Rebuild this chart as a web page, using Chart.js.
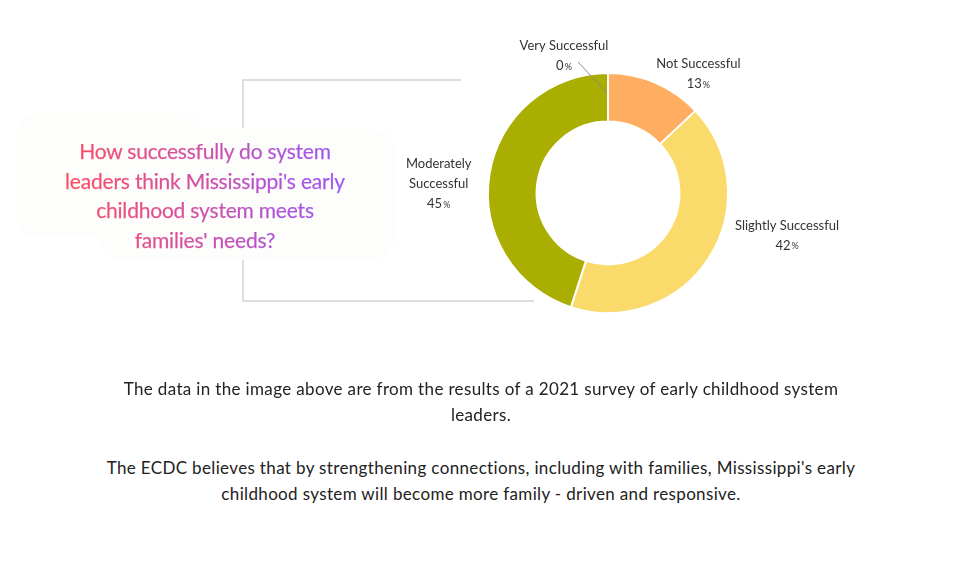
<!DOCTYPE html>
<html>
<head>
<meta charset="utf-8">
<script src="https://cdn.jsdelivr.net/npm/chart.js@4.4.1/dist/chart.umd.min.js"></script>
<style>
  html, body { margin: 0; padding: 0; background: #fff; }
  body { width: 962px; height: 568px; position: relative; overflow: hidden; font-family: Lato, sans-serif; }
  .line { position: absolute; background: #dedede; }
  .blob { position: absolute; background: #fdfdfb; border-radius: 26px; }
  #title {
    position: absolute; left: 30px; top: 136px; width: 350px;
    text-align: center; font-size: 21px; line-height: 29.5px; letter-spacing: -0.2px;
    -webkit-text-stroke: 0.25px transparent;
    background: linear-gradient(90deg, #ff4d60 10%, #d64f9e 45%, #b054d8 70%, #9b55f5 90%);
    -webkit-background-clip: text; background-clip: text; color: transparent;
  }
  #wrap { position: absolute; left: 308px; top: 0; width: 600px; height: 386px; }
  .note { position: absolute; left: 0; width: 962px; text-align: center; font-size: 17px; line-height: 26px; color: #222; letter-spacing: 0.35px; }
</style>
</head>
<body>
<div class="line" style="left:242px; top:79px; width:219px; height:2px;"></div>
<div class="line" style="left:242px; top:79px; width:2px; height:223px;"></div>
<div class="line" style="left:242px; top:300px; width:292px; height:2px;"></div>
<div class="blob" style="left:15px; top:112px; width:190px; height:126px;"></div>
<div class="blob" style="left:98px; top:128px; width:298px; height:132px;"></div>
<div id="title">How successfully do system<br>leaders think Mississippi's early<br>childhood system meets<br>families' needs?</div>
<div id="wrap"><canvas id="donut"></canvas></div>
<div class="note" style="top:376px;">The data in the image above are from the results of a 2021 survey of early childhood system<br>leaders.</div>
<div class="note" style="top:455px;">The ECDC believes that by strengthening connections, including with families, Mississippi's early<br>childhood system will become more family - driven and responsive.</div>
<script>
const categories = ['Very Successful', 'Not Successful', 'Slightly Successful', 'Moderately Successful'];
const labelLines = [['Very Successful'], ['Not Successful'], ['Slightly Successful'], ['Moderately', 'Successful']];
const shares = [0, 13, 42, 45];
const sliceColors = ['#ffffff', '#ffad60', '#fada6a', '#aaae00'];

const LABEL_FONT = "13px Lato, sans-serif";
const PCT_FONT = "9px Lato, sans-serif";

const calloutPlugin = {
  id: 'calloutLabels',
  afterDatasetsDraw(chart, _args, opts) {
    const { ctx } = chart;
    const arcs = chart.getDatasetMeta(0).data;
    ctx.save();
    ctx.textBaseline = 'middle';
    arcs.forEach((arc, i) => {
      const p = arc.getProps(['startAngle', 'endAngle', 'outerRadius', 'x', 'y'], true);
      const a = (p.startAngle + p.endAngle) / 2;
      const nudge = opts.nudges[i];
      const r = p.outerRadius + nudge.r;
      const ax = p.x + Math.cos(a) * r + nudge.dx;
      const ay = p.y + Math.sin(a) * r + nudge.dy;
      const lines = labelLines[i];
      const lh = 20;
      const top = ay - (lines.length * lh) / 2;
      ctx.fillStyle = '#333';
      ctx.textAlign = 'center';
      ctx.font = LABEL_FONT;
      lines.forEach((t, k) => ctx.fillText(t, ax, top + k * lh + lh / 2));
      const num = String(shares[i]);
      ctx.font = LABEL_FONT;
      const nw = ctx.measureText(num).width;
      ctx.font = PCT_FONT;
      const pw = ctx.measureText('%').width;
      const py = top + lines.length * lh + lh / 2;
      const sx = ax - (nw + pw + 1) / 2;
      ctx.textAlign = 'left';
      ctx.font = LABEL_FONT;
      ctx.fillText(num, sx, py);
      ctx.font = PCT_FONT;
      ctx.fillText('%', sx + nw + 1, py + 1);
      if (nudge.leader) {
        const ex = p.x + Math.cos(a) * (p.outerRadius - 20);
        const ey = p.y + Math.sin(a) * (p.outerRadius - 20);
        ctx.strokeStyle = '#8a8a8a';
        ctx.lineWidth = 1;
        ctx.beginPath();
        ctx.moveTo(ax + 14, py - 4);
        ctx.lineTo(ex - 1, ey);
        ctx.stroke();
      }
    });
    ctx.restore();
  }
};

new Chart(document.getElementById('donut'), {
  type: 'doughnut',
  plugins: [calloutPlugin],
  data: {
    labels: categories,
    datasets: [{
      data: shares,
      backgroundColor: sliceColors,
      borderColor: '#ffffff',
      borderWidth: 2,
    }],
  },
  options: {
    responsive: true,
    maintainAspectRatio: false,
    animation: false,
    cutout: '59.5%',
    layout: { padding: { top: 72, bottom: 72, left: 172, right: 172 } },
    plugins: {
      legend: { display: false },
      tooltip: { enabled: false },
      calloutLabels: {
        nudges: [
          { r: 38, dx: -44, dy: 11, leader: true },
          { r: 22, dx: 34, dy: 1 },
          { r: 34, dx: 49, dy: -50 },
          { r: 20, dx: -31, dy: 3 },
        ],
      },
    },
  },
});
</script>
</body>
</html>
